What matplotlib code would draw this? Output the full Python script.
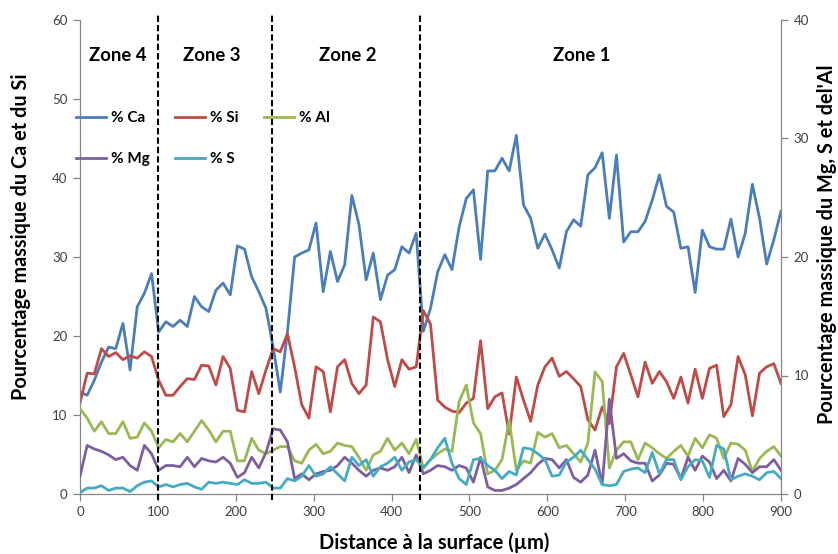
import numpy as np
import matplotlib.pyplot as plt

plt.rcParams['font.family'] = ['Lato', 'DejaVu Sans']

# Profils de composition (% massique) en fonction de la distance à la surface
distance = np.linspace(0, 900, 99)

ca = [12.9, 12.5, 14.4, 16.7, 18.6, 18.4, 21.6, 15.7, 23.7, 25.4, 27.9, 20.5, 21.8, 21.2, 22.0, 21.2,
      25.0, 23.7, 23.1, 25.8, 26.7, 25.2, 31.4, 31.0, 27.5,
      25.6, 23.5, 18.6, 12.9, 20.5, 30.0, 30.5, 30.9, 34.3, 25.6, 30.7, 26.9, 29.0, 37.8, 34.1,
      27.1, 30.5, 24.6, 27.7, 28.4, 31.3, 30.5, 33.0, 20.6, 23.5,
      28.1, 30.3, 28.4, 33.8, 37.4, 38.5, 29.7, 40.9, 40.9, 42.5, 40.9, 45.4, 36.6, 34.9, 31.1,
      32.9, 30.9, 28.6, 33.2, 34.7, 33.9, 40.4, 41.3, 43.2,
      34.9, 42.9, 31.9, 33.2, 33.2, 34.5, 37.2, 40.4, 36.4, 35.7, 31.1, 31.3, 25.5, 33.4, 31.3,
      31.0, 31.0, 34.8, 30.0, 33.0, 39.2, 34.9, 29.1, 32.2, 35.8]

si = [11.5, 15.3, 15.2, 18.4, 17.4, 17.9, 17.0, 17.5, 17.2, 18.0, 17.4, 14.4, 12.5, 12.5, 13.6, 14.6,
      14.5, 16.3, 16.2, 13.8, 17.4, 15.9, 10.6, 10.4, 15.5,
      12.7, 15.7, 18.4, 18.0, 20.3, 16.1, 11.3, 9.6, 16.1, 15.5, 10.4, 16.1, 17.0, 14.0, 12.7,
      13.8, 22.4, 21.8, 17.0, 13.6, 17.0, 15.8, 16.1, 23.2, 21.5,
      11.9, 11.0, 10.5, 10.3, 11.5, 12.1, 19.4, 10.8, 12.3, 12.8, 7.6, 14.8, 11.9, 9.2, 13.8,
      16.1, 17.2, 14.9, 15.5, 14.6, 13.6, 9.4, 8.1, 11.0,
      8.9, 16.1, 17.8, 15.1, 12.3, 16.7, 14.0, 15.5, 14.2, 12.1, 14.8, 11.5, 15.8, 12.1, 15.9,
      16.3, 9.8, 11.3, 17.4, 15.1, 9.9, 15.3, 16.1, 16.5, 14.0]

al = [7.2, 6.4, 5.3, 6.1, 5.1, 5.1, 6.1, 4.7, 4.8, 6.0, 5.3, 3.9, 4.6, 4.4, 5.1, 4.4,
      5.3, 6.2, 5.4, 4.4, 5.3, 5.3, 2.8, 2.8, 4.7,
      3.7, 3.4, 3.7, 4.0, 4.0, 2.8, 2.6, 3.7, 4.2, 3.4, 3.6, 4.3, 4.1, 4.0, 3.1,
      2.0, 3.3, 3.6, 4.7, 3.7, 4.3, 3.4, 4.6, 2.2, 2.9,
      3.4, 3.8, 3.6, 7.8, 9.2, 6.0, 5.1, 1.7, 2.0, 2.9, 6.2, 2.0, 2.8, 2.6, 5.2,
      4.8, 5.1, 3.9, 4.1, 3.4, 2.7, 4.3, 10.3, 9.5,
      2.2, 3.7, 4.4, 4.4, 2.9, 4.3, 3.9, 3.4, 3.0, 3.6, 4.1, 3.2, 4.7, 3.9, 5.0,
      4.7, 3.0, 4.3, 4.2, 3.7, 1.9, 3.0, 3.6, 4.0, 3.2]

mg = [1.5, 4.1, 3.8, 3.6, 3.3, 2.9, 3.1, 2.4, 2.0, 4.1, 3.4, 2.0, 2.4, 2.4, 2.3, 3.1,
      2.3, 3.0, 2.8, 2.7, 3.1, 2.6, 1.4, 1.8, 3.1,
      2.2, 3.5, 5.5, 5.4, 4.4, 1.3, 1.7, 1.2, 1.7, 1.9, 2.0, 2.4, 3.1, 2.6, 2.0,
      1.5, 2.0, 2.2, 2.0, 2.3, 3.1, 1.8, 3.3, 1.7, 2.0,
      2.4, 2.3, 2.0, 2.4, 2.2, 1.0, 3.1, 0.6, 0.3, 0.3, 0.5, 0.8, 1.3, 1.8, 2.5,
      3.0, 2.9, 2.2, 2.9, 1.4, 1.0, 1.6, 3.7, 0.8,
      8.0, 3.0, 3.4, 2.8, 2.6, 2.6, 1.1, 1.6, 2.6, 2.5, 1.3, 3.1, 2.0, 3.2, 2.7,
      1.3, 2.0, 1.1, 3.0, 2.5, 1.8, 2.3, 2.3, 2.9, 2.0]

s = [0.1, 0.5, 0.5, 0.7, 0.3, 0.5, 0.5, 0.2, 0.7, 1.0, 1.1, 0.6, 0.8, 0.6, 0.8, 0.9,
     0.6, 0.4, 1.0, 0.9, 1.0, 0.9, 0.8, 1.2, 0.9,
     0.9, 1.0, 0.5, 0.5, 1.3, 1.1, 1.5, 2.4, 1.5, 1.7, 2.3, 1.7, 1.1, 3.1, 2.4,
     2.9, 1.5, 2.3, 2.6, 3.1, 2.0, 2.7, 2.9, 2.2, 2.9,
     3.9, 4.7, 2.6, 1.3, 0.8, 2.9, 3.0, 2.4, 2.0, 1.3, 1.9, 1.6, 3.9, 3.8, 3.4,
     2.9, 1.5, 1.6, 2.7, 3.1, 3.7, 2.9, 2.1, 0.8,
     0.7, 0.8, 1.9, 2.1, 2.2, 1.8, 3.5, 1.7, 2.9, 2.9, 1.2, 2.3, 2.9, 2.8, 1.4,
     4.1, 3.8, 1.2, 1.5, 1.7, 1.5, 1.2, 1.8, 1.9, 1.3]

zone_names = ['Zone 4', 'Zone 3', 'Zone 2', 'Zone 1']
zone_centres = [48, 169, 344, 644]
zone_limits = [100, 247, 436]

grey = '#868686'
txt = '#404040'

fig = plt.figure(figsize=(8.38, 5.54), dpi=100)
ax = fig.add_axes([80 / 838, 60 / 554, 701 / 838, 474 / 554])
ax2 = ax.twinx()

# axe principal : Ca et Si
l_ca, = ax.plot(distance, ca, color='#4A7EBB', lw=2, label='% Ca')
l_si, = ax.plot(distance, si, color='#BE4B48', lw=2, label='% Si')
# axe secondaire : Al, Mg, S
l_al, = ax2.plot(distance, al, color='#98B954', lw=2, label='% Al')
l_mg, = ax2.plot(distance, mg, color='#7D5FA0', lw=2, label='% Mg')
l_s, = ax2.plot(distance, s, color='#46AAC5', lw=2, label='% S')

ax.set_xlim(0, 900)
ax.set_ylim(0, 60)
ax2.set_ylim(0, 40)
ax.set_xticks(range(0, 1000, 100))
ax.set_yticks(range(0, 70, 10))
ax2.set_yticks(range(0, 50, 10))

for a in (ax, ax2):
    a.spines['top'].set_visible(False)
    for sp in a.spines.values():
        sp.set_color(grey)
        sp.set_linewidth(0.9)
    a.tick_params(direction='out', length=5, width=0.9, color=grey,
                  labelsize=9.5, labelcolor=txt, pad=4)
ax2.spines['left'].set_visible(False)
ax2.spines['bottom'].set_visible(False)
ax.spines['right'].set_visible(False)

# limites des zones
for xz in zone_limits:
    ax2.axvline(xz, ymin=-0.013, ymax=1.015, color='black', lw=1.5,
                ls=(0, (3, 1.5)), clip_on=False, zorder=5)

for name, xc in zip(zone_names, zone_centres):
    ax.text(xc, 54.8, name, ha='center', va='baseline', fontsize=13.3, weight='bold')

fig.legend([l_ca, l_mg, l_si, l_s, l_al], ['% Ca', '% Mg', '% Si', '% S', '% Al'],
           loc='upper left', bbox_to_anchor=(76 / 838, 1 - 111 / 554), ncol=3,
           frameon=False, prop=dict(weight='bold', size=11), handlelength=1.96,
           handletextpad=0.3, columnspacing=1.7, labelspacing=1.76,
           borderpad=0, borderaxespad=0)

fig.text(21 / 838, 1 - 236.5 / 554, 'Pourcentage massique du Ca et du Si', rotation=90,
         ha='center', va='center', fontsize=14.3, weight='bold')
fig.text(827 / 838, 1 - 244 / 554, "Pourcentage massique du Mg, S et del'Al", rotation=90,
         ha='center', va='center', fontsize=14.3, weight='bold')
fig.text(434 / 838, 1 - 543 / 554, 'Distance à la surface (µm)', ha='center', va='center',
         fontsize=14.5, weight='bold')

fig.savefig('out.png', dpi=100)
